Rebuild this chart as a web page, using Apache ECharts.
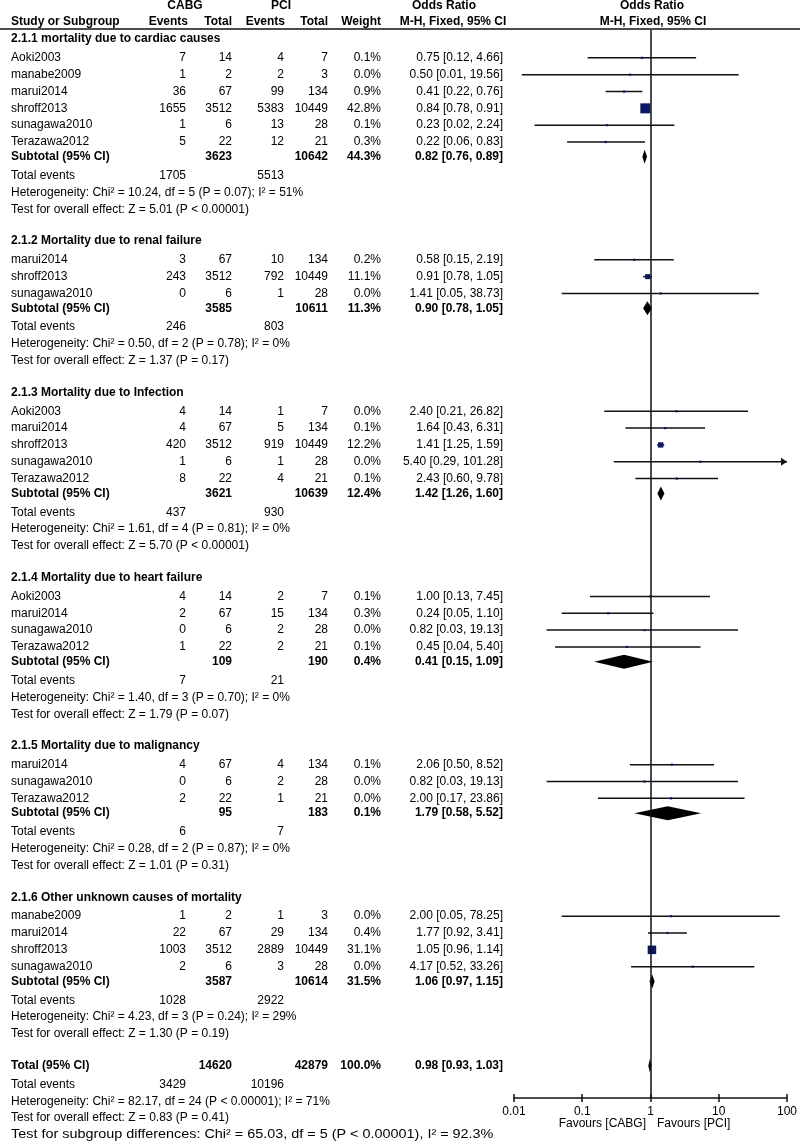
<!DOCTYPE html>
<html>
<head>
<meta charset="utf-8">
<script src="https://cdn.jsdelivr.net/npm/echarts@6/dist/echarts.min.js"></script>
<style>
html,body{margin:0;padding:0;background:#fff;}
#chart{width:800px;height:1143px;}
</style>
</head>
<body>
<div id="chart"></div>
<script>
// ---------------- DATA ----------------
const groupTitles = [
  '2.1.1 mortality due to cardiac causes',
  '2.1.2 Mortality due to renal failure',
  '2.1.3 Mortality due to Infection',
  '2.1.4 Mortality due to heart failure',
  '2.1.5 Mortality due to malignancy',
  '2.1.6 Other unknown causes of mortality'
];
const studyGroup = [0,0,0,0,0,0, 1,1,1, 2,2,2,2,2, 3,3,3,3, 4,4,4, 5,5,5,5];
const studyNames = [
  'Aoki2003','manabe2009','marui2014','shroff2013','sunagawa2010','Terazawa2012',
  'marui2014','shroff2013','sunagawa2010',
  'Aoki2003','marui2014','shroff2013','sunagawa2010','Terazawa2012',
  'Aoki2003','marui2014','sunagawa2010','Terazawa2012',
  'marui2014','sunagawa2010','Terazawa2012',
  'manabe2009','marui2014','shroff2013','sunagawa2010'
];
const cabgEvents = [7,1,36,1655,1,5, 3,243,0, 4,4,420,1,8, 4,2,0,1, 4,0,2, 1,22,1003,2];
const cabgTotal  = [14,2,67,3512,6,22, 67,3512,6, 14,67,3512,6,22, 14,67,6,22, 67,6,22, 2,67,3512,6];
const pciEvents  = [4,2,99,5383,13,12, 10,792,1, 1,5,919,1,4, 2,15,2,2, 4,2,1, 1,29,2889,3];
const pciTotal   = [7,3,134,10449,28,21, 134,10449,28, 7,134,10449,28,21, 7,134,28,21, 134,28,21, 3,134,10449,28];
const weightPct  = [0.1,0.0,0.9,42.8,0.1,0.3, 0.2,11.1,0.0, 0.0,0.1,12.2,0.0,0.1, 0.1,0.3,0.0,0.1, 0.1,0.0,0.0, 0.0,0.4,31.1,0.0];
const oddsRatio  = [0.75,0.50,0.41,0.84,0.23,0.22, 0.58,0.91,1.41, 2.40,1.64,1.41,5.40,2.43, 1.00,0.24,0.82,0.45, 2.06,0.82,2.00, 2.00,1.77,1.05,4.17];
const ciLower    = [0.12,0.013,0.22,0.78,0.02,0.06, 0.15,0.78,0.05, 0.21,0.43,1.25,0.29,0.60, 0.13,0.05,0.03,0.04, 0.50,0.03,0.17, 0.05,0.92,0.96,0.52];
const ciUpper    = [4.66,19.56,0.76,0.91,2.24,0.83, 2.19,1.05,38.73, 26.82,6.31,1.59,101.28,9.78, 7.45,1.10,19.13,5.40, 8.52,19.13,23.86, 78.25,3.41,1.14,33.26];

const subCabgTotal  = [3623,3585,3621,109,95,3587];
const subPciTotal   = [10642,10611,10639,190,183,10614];
const subWeight     = [44.3,11.3,12.4,0.4,0.1,31.5];
const subOR         = [0.82,0.90,1.42,0.41,1.79,1.06];
const subLower      = [0.76,0.78,1.26,0.15,0.58,0.97];
const subUpper      = [0.89,1.05,1.60,1.09,5.52,1.15];
const subCabgEvents = [1705,246,437,7,6,1028];
const subPciEvents  = [5513,803,930,21,7,2922];
const subHeterogeneity = [
  'Heterogeneity: Chi² = 10.24, df = 5 (P = 0.07); I² = 51%',
  'Heterogeneity: Chi² = 0.50, df = 2 (P = 0.78); I² = 0%',
  'Heterogeneity: Chi² = 1.61, df = 4 (P = 0.81); I² = 0%',
  'Heterogeneity: Chi² = 1.40, df = 3 (P = 0.70); I² = 0%',
  'Heterogeneity: Chi² = 0.28, df = 2 (P = 0.87); I² = 0%',
  'Heterogeneity: Chi² = 4.23, df = 3 (P = 0.24); I² = 29%'
];
const subOverallTest = [
  'Test for overall effect: Z = 5.01 (P < 0.00001)',
  'Test for overall effect: Z = 1.37 (P = 0.17)',
  'Test for overall effect: Z = 5.70 (P < 0.00001)',
  'Test for overall effect: Z = 1.79 (P = 0.07)',
  'Test for overall effect: Z = 1.01 (P = 0.31)',
  'Test for overall effect: Z = 1.30 (P = 0.19)'
];
const totalCabgTotal = 14620, totalPciTotal = 42879, totalWeight = 100.0;
const totalOR = 0.98, totalLower = 0.93, totalUpper = 1.03;
const totalCabgEvents = 3429, totalPciEvents = 10196;
const totalNotes = [
  'Heterogeneity: Chi² = 82.17, df = 24 (P < 0.00001); I² = 71%',
  'Test for overall effect: Z = 0.83 (P = 0.41)',
  'Test for subgroup differences: Chi² = 65.03, df = 5 (P < 0.00001), I² = 92.3%'
];
const tickLabels = ['0.01','0.1','1','10','100'];
const favoursLeft = 'Favours [CABG]', favoursRight = 'Favours [PCI]';

// ---------------- LAYOUT ----------------
const W = 800, H = 1143;
const ROW0 = 39, ROWH = 16.83;           // pixel of row 0, pixel per row
const FOREST = {left: 514, right: 12, top: 30, bottom: 45};
const COL = {name: 11, ce: 186, ct: 232, pe: 284, pt: 328, w: 381, or: 503};
const FONT = '12px "Liberation Sans", Arial, Helvetica, sans-serif';
const BFONT = 'bold ' + FONT;
const SHIFT = 0.12;
const BOX = '#0d1a63';

const fmtOR = (o, l, u) => o.toFixed(2) + ' [' + l.toFixed(2) + ', ' + u.toFixed(2) + ']';
const fmtW = w => w.toFixed(1) + '%';

// build rows
const rows = [];
rows.push({type: 'header1', row: -2});
rows.push({type: 'header2', row: -1});
let r = 0;
groupTitles.forEach((title, g) => {
  rows.push({type: 'heading', row: r, text: title}); r++;
  studyGroup.forEach((sg, i) => {
    if (sg === g) { rows.push({type: 'study', row: r + SHIFT, i}); r++; }
  });
  rows.push({type: 'subtotal', row: r, g}); r++;
  rows.push({type: 'events', row: r + SHIFT, ce: subCabgEvents[g], pe: subPciEvents[g]}); r++;
  rows.push({type: 'note', row: r + SHIFT, text: subHeterogeneity[g]}); r++;
  rows.push({type: 'note', row: r + SHIFT, text: subOverallTest[g]}); r++;
  r++;
});
rows.push({type: 'total', row: r}); r++;
rows.push({type: 'events', row: r + SHIFT, ce: totalCabgEvents, pe: totalPciEvents}); r++;
totalNotes.forEach((t, k) => { rows.push({type: 'note', row: r + SHIFT, text: t, wide: k === 2}); r++; });
rows.push({type: 'favours', row: (1124 - ROW0) / ROWH});

function renderTable(params, api) {
  const row = rows[params.dataIndex];
  const y = api.coord([0, row.row])[1];
  const ch = [];
  const t = (x, text, align, bold, sx) => {
    const px = api.coord([x, row.row])[0];
    ch.push({
      type: 'text', x: px, y: y, scaleX: sx || 1, scaleY: 1, originX: 0, originY: 0,
      style: {text: String(text), fill: '#000', font: bold ? BFONT : FONT, align: align, verticalAlign: 'middle'}
    });
  };
  switch (row.type) {
    case 'header1':
      t(185, 'CABG', 'center', true); t(281, 'PCI', 'center', true);
      t(444, 'Odds Ratio', 'center', true); t(652, 'Odds Ratio', 'center', true);
      break;
    case 'header2':
      t(COL.name, 'Study or Subgroup', 'left', true);
      t(COL.ce + 2, 'Events', 'right', true); t(COL.ct, 'Total', 'right', true);
      t(COL.pe + 1, 'Events', 'right', true); t(COL.pt, 'Total', 'right', true);
      t(COL.w, 'Weight', 'right', true);
      t(453, 'M-H, Fixed, 95% CI', 'center', true); t(653, 'M-H, Fixed, 95% CI', 'center', true);
      break;
    case 'heading':
      t(COL.name, row.text, 'left', true); break;
    case 'study': {
      const i = row.i;
      t(COL.name, studyNames[i], 'left');
      t(COL.ce, cabgEvents[i], 'right'); t(COL.ct, cabgTotal[i], 'right');
      t(COL.pe, pciEvents[i], 'right'); t(COL.pt, pciTotal[i], 'right');
      t(COL.w, fmtW(weightPct[i]), 'right');
      t(COL.or, fmtOR(oddsRatio[i], ciLower[i], ciUpper[i]), 'right');
      break;
    }
    case 'subtotal': {
      const g = row.g;
      t(COL.name, 'Subtotal (95% CI)', 'left', true);
      t(COL.ct, subCabgTotal[g], 'right', true); t(COL.pt, subPciTotal[g], 'right', true);
      t(COL.w, fmtW(subWeight[g]), 'right', true);
      t(COL.or, fmtOR(subOR[g], subLower[g], subUpper[g]), 'right', true);
      break;
    }
    case 'total':
      t(COL.name, 'Total (95% CI)', 'left', true);
      t(COL.ct, totalCabgTotal, 'right', true); t(COL.pt, totalPciTotal, 'right', true);
      t(COL.w, fmtW(totalWeight), 'right', true);
      t(COL.or, fmtOR(totalOR, totalLower, totalUpper), 'right', true);
      break;
    case 'events':
      t(COL.name, 'Total events', 'left');
      t(COL.ce, row.ce, 'right'); t(COL.pe, row.pe, 'right');
      break;
    case 'note':
      t(COL.name, row.text, 'left', false, row.wide ? 1.2 : 1); break;
    case 'favours':
      t(646, favoursLeft, 'right'); t(657, favoursRight, 'left'); break;
  }
  return {type: 'group', children: ch};
}

// forest rows
const forestRows = rows.filter(x => x.type === 'study' || x.type === 'subtotal' || x.type === 'total');
const AXMAX = 100, AXMIN = 0.01;
function renderForest(params, api) {
  const fr = forestRows[params.dataIndex];
  const ch = [];
  const line = {stroke: '#111', lineWidth: 1.5};
  if (fr.type === 'study') {
    const i = fr.i;
    const lo = Math.max(ciLower[i], AXMIN), hi = Math.min(ciUpper[i], AXMAX);
    const p1 = api.coord([lo, fr.row]), p2 = api.coord([hi, fr.row]);
    ch.push({type: 'line', shape: {x1: p1[0], y1: p1[1], x2: p2[0], y2: p2[1]}, style: line});
    if (ciUpper[i] > AXMAX) {
      ch.push({type: 'polygon', shape: {points: [[p2[0], p2[1]], [p2[0] - 6, p2[1] - 4], [p2[0] - 6, p2[1] + 4]]}, style: {fill: '#111'}});
    }
    if (ciLower[i] < AXMIN) {
      ch.push({type: 'polygon', shape: {points: [[p1[0], p1[1]], [p1[0] + 6, p1[1] - 4], [p1[0] + 6, p1[1] + 4]]}, style: {fill: '#111'}});
    }
    const c = api.coord([oddsRatio[i], fr.row]);
    const s = Math.max(2.2, 1.53 * Math.sqrt(weightPct[i]));
    ch.push({type: 'rect', shape: {x: c[0] - s / 2, y: c[1] - s / 2, width: s, height: s}, style: {fill: BOX}});
  } else {
    let o, l, u;
    if (fr.type === 'subtotal') { o = subOR[fr.g]; l = subLower[fr.g]; u = subUpper[fr.g]; }
    else { o = totalOR; l = totalLower; u = totalUpper; }
    const pl = api.coord([l, fr.row]), pu = api.coord([u, fr.row]), pc = api.coord([o, fr.row]);
    const hh = 7;
    ch.push({type: 'polygon', shape: {points: [[pl[0], pl[1]], [pc[0], pc[1] - hh], [pu[0], pu[1]], [pc[0], pc[1] + hh]]}, style: {fill: '#000'}});
  }
  return {type: 'group', children: ch};
}

const chart = echarts.init(document.getElementById('chart'), null, {renderer: 'canvas'});
const forestYMin = (FOREST.top - ROW0) / ROWH;
const forestYMax = (H - FOREST.bottom - ROW0) / ROWH;
const logLabel = v => tickLabels[Math.round(Math.log10(v)) + 2];

chart.setOption({
  animation: false,
  backgroundColor: '#fff',
  grid: [
    {left: 0, right: 0, top: 0, bottom: 0},
    {left: FOREST.left, right: FOREST.right, top: FOREST.top, bottom: FOREST.bottom}
  ],
  xAxis: [
    {gridIndex: 0, type: 'value', min: 0, max: W, show: false},
    {gridIndex: 1, type: 'log', logBase: 10, min: AXMIN, max: AXMAX, position: 'bottom',
     splitLine: {show: false},
     axisLine: {show: true, onZero: false, lineStyle: {color: '#111', width: 1.5}},
     axisTick: {show: true, inside: false, length: 4, lineStyle: {color: '#111', width: 1.5}},
     minorTick: {show: false},
     axisLabel: {show: true, margin: 8, color: '#000', fontSize: 12, fontFamily: '"Liberation Sans", Arial, sans-serif', formatter: logLabel}},
    {gridIndex: 1, type: 'log', logBase: 10, min: AXMIN, max: AXMAX, position: 'bottom', offset: 0,
     splitLine: {show: false}, axisLine: {show: false, onZero: false}, axisLabel: {show: false},
     axisTick: {show: true, inside: true, length: 4, lineStyle: {color: '#111', width: 1.5}}}
  ],
  yAxis: [
    {gridIndex: 0, type: 'value', inverse: true, min: -ROW0 / ROWH, max: (H - ROW0) / ROWH, show: false},
    {gridIndex: 1, type: 'value', inverse: true, min: forestYMin, max: forestYMax, show: false}
  ],
  graphic: [
    {type: 'line', shape: {x1: 0, y1: 29, x2: W, y2: 29}, style: {stroke: '#111', lineWidth: 1.5}, z: 10}
  ],
  series: [
    {type: 'custom', xAxisIndex: 0, yAxisIndex: 0, silent: true, clip: false,
     data: rows.map(x => [0, x.row]), renderItem: renderTable, z: 5},
    {type: 'custom', xAxisIndex: 1, yAxisIndex: 1, silent: true, clip: false,
     data: forestRows.map(x => [1, x.row]), renderItem: renderForest, z: 4,
     markLine: {silent: true, symbol: ['none', 'none'], label: {show: false},
       lineStyle: {color: '#111', width: 1.5, type: 'solid'}, data: [{xAxis: 1}]}}
  ]
});
</script>
</body>
</html>
